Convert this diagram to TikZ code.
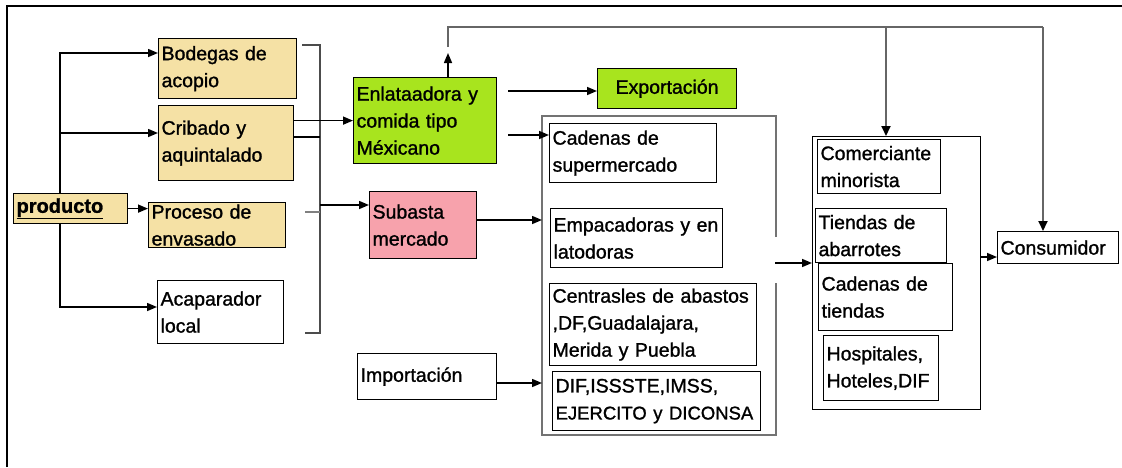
\documentclass[tikz,border=0pt]{standalone}
\usepackage{fontspec}
\setmainfont{Liberation Sans}[FakeBold=1.2]
\usetikzlibrary{arrows.meta}

\definecolor{arena}{RGB}{245,225,165}
\definecolor{verde}{RGB}{168,228,30}
\definecolor{rosa}{RGB}{247,162,172}

\tikzset{
  caja/.style={draw, line width=1.2pt, anchor=north west, align=left, inner xsep=3pt, inner ysep=0pt},
  grupo/.style={anchor=north west, inner sep=0pt},
  flecha/.style={-{Triangle[length=10pt,width=8pt]}, line width=1.5pt},
  retro/.style={draw=black!60, line width=1.8pt},
  retroflecha/.style={retro, -{Triangle[length=10pt,width=9pt,color=black]}},
}

\begin{document}
\begin{tikzpicture}[x=1pt,y=-1pt,font=\fontsize{19.5}{27}\selectfont]
        \useasboundingbox (0,0) rectangle (1122,467);

        % frame
        \draw[line width=2.5pt] (7,467) -- (7,6) -- (1122,6);

        % first column
        \node[caja, fill=arena, text width=108pt, minimum height=30pt,
              font=\fontsize{20}{27}\selectfont\bfseries] (producto) at (13,193) {\underline{producto}};
        \node[caja, fill=arena, text width=132pt, minimum height=60pt] (bodegas) at (158,38) {Bodegas de\\acopio};
        \node[caja, fill=arena, text width=129pt, minimum height=75pt] (cribado) at (158,105) {Cribado y\\aquintalado};
        \node[caja, fill=arena, text width=131pt, minimum height=45pt] (proceso) at (148,202) {Proceso de\\envasado};
        \node[caja, text width=120pt, minimum height=63pt] (acaparador) at (157,280) {Acaparador\\local};

        % second column
        \node[caja, fill=verde, text width=137pt, minimum height=86pt] (enl) at (353,77) {\mbox{Enlataadora y}\\comida tipo\\Méxicano};
        \node[caja, fill=rosa, text width=101pt, minimum height=67pt] (subasta) at (369,191) {Subasta\\mercado};
        \node[caja, text width=133pt, minimum height=46pt] (importacion) at (357,353) {Importación};
        \node[caja, fill=verde, text width=133pt, minimum height=40pt, align=center] (expo) at (597,68) {Exportación};

        % mayoristas
        \node[grupo, minimum width=234pt, minimum height=319pt] (grupo1) at (542,116) {};
        \draw[draw=black!55, line width=2pt] ([yshift=-121pt]grupo1.north east) -- (grupo1.north east)
            -- (grupo1.north west) -- (grupo1.south west) -- (grupo1.south east) -- ([yshift=-167pt]grupo1.north east);
        \node[caja, text width=161pt, minimum height=59pt] (cadsuper) at (549,123) {Cadenas de\\supermercado};
        \node[caja, text width=166pt, minimum height=59pt] (empac) at (550,208) {\mbox{Empacadoras y en}\\latodoras};
        \node[caja, text width=201pt, minimum height=82pt] (centrales) at (549,283) {\mbox{Centrasles de abastos}\\,DF,Guadalajara,\\Merida y Puebla};
        \node[caja, text width=202pt, minimum height=59pt] (dif) at (552,371) {DIF,ISSSTE,IMSS,\\\mbox{\fontsize{18.5}{27}\selectfont EJERCITO y DICONSA}};

        % minoristas
        \node[grupo, draw, line width=1.4pt, minimum width=168pt, minimum height=273pt] (grupo2) at (812,136) {};
        \node[caja, text width=117pt, minimum height=54pt] (comerciante) at (817,139) {Comerciante\\minorista};
        \node[caja, text width=125pt, minimum height=54pt] (tiendas) at (815,208) {Tiendas de\\abarrotes};
        \node[caja, text width=128pt, minimum height=67pt] (cadtiendas) at (818,263) {Cadenas de\\tiendas};
        \node[caja, text width=109pt, minimum height=65pt] (hospitales) at (823,335) {Hospitales,\\Hoteles,DIF};
        \node[caja, text width=115pt, minimum height=32pt] (consumidor) at (997,231) {Consumidor};

        % helper points
        \coordinate (ramal) at (60,53);
        \coordinate (rcrib) at (60,133);
        \coordinate (rbajo) at (60,307);
        \coordinate (corA) at (320,45);
        \coordinate (corB) at (320,333);
        \coordinate (crib2) at (320,137);
        \coordinate (proc2) at (320,212);
        \coordinate (sub1) at (320,205);
        \coordinate (retorno) at (448,27);
        \coordinate (bajada1) at (886,27);
        \coordinate (bajada2) at (1043,27);
        \coordinate (sal1) at (508,91);
        \coordinate (sal2) at (508,135);
        \coordinate (ent1) at (542,220);
        \coordinate (ent2) at (542,383);
        \coordinate (sal3) at (775,263);
        \coordinate (ent3) at (997,257);

        % from producto
        \draw[flecha] (producto.north -| ramal) -- (ramal) -- (ramal -| bodegas.west);
        \draw[flecha] (rcrib) -- (rcrib -| cribado.west);
        \draw[flecha] (producto.south -| rbajo) -- (rbajo) -- (rbajo -| acaparador.west);
        \draw[flecha] (producto.east) -- (producto.east -| proceso.west);

        % bracket
        \draw[line width=1.5pt, draw=black!70] ([xshift=-18pt]corA) -- (corA) -- (corB) -- ([xshift=-15pt]corB);
        \draw[line width=1.5pt] (cribado.east |- crib2) -- (crib2);
        \draw[line width=1.5pt, draw=black!50] ([xshift=-15pt]proc2) -- (proc2);
        \draw[flecha] (sub1) -- (sub1 -| subasta.west);
        \draw[flecha] (cribado.east |- enl.west) -- (enl.west);

        % to the wholesalers
        \draw[flecha] (sal1) -- (sal1 -| expo.west);
        \draw[flecha] (sal2) -- (sal2 -| cadsuper.west);
        \draw[flecha] (subasta.east |- ent1) -- (ent1);
        \draw[flecha] (importacion.east |- ent2) -- (ent2);
        \draw[flecha] (sal3) -- (sal3 -| grupo2.west);
        \draw[flecha] (grupo2.east |- ent3) -- (ent3);

        % return line on top
        \draw[flecha] (enl.north -| retorno) -- ++(0,-24);
        \draw[retro] ([yshift=-20pt]retorno) -- (retorno) -- (bajada2);
        \draw[retroflecha] (bajada1) -- (bajada1 |- grupo2.north);
        \draw[retroflecha] (bajada2) -- (bajada2 |- consumidor.north);

\end{tikzpicture}
\end{document}
